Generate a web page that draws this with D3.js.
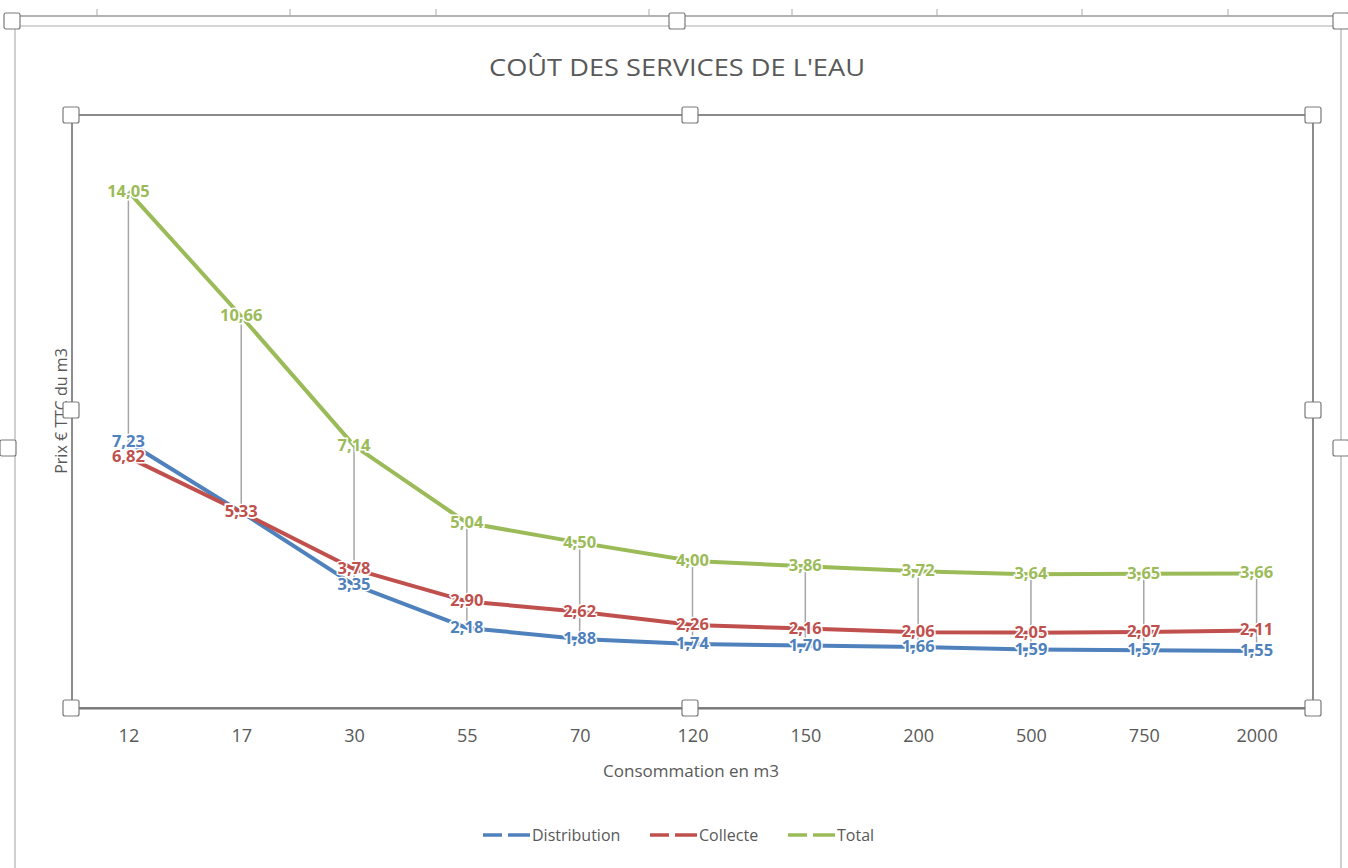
<html>
<head>
<meta charset="utf-8">
<script src="https://d3js.org/d3.v7.min.js"></script>
<style>
    body { margin: 0; background: #fff; }
    svg { font-family: "Open Sans", "Liberation Sans", sans-serif; }
</style>
</head>
<body>
<svg></svg>
<script>
    const categories = ["12", "17", "30", "55", "70", "120", "150", "200", "500", "750", "2000"];
    const distribution = [7.23, 5.33, 3.35, 2.18, 1.88, 1.74, 1.70, 1.66, 1.59, 1.57, 1.55];
    const collecte = [6.82, 5.33, 3.78, 2.90, 2.62, 2.26, 2.16, 2.06, 2.05, 2.07, 2.11];
    const total = [14.05, 10.66, 7.14, 5.04, 4.50, 4.00, 3.86, 3.72, 3.64, 3.65, 3.66];
    const seriesNames = ["Distribution", "Collecte", "Total"];
    const colors = ["#4F81BD", "#C0504D", "#9BBB59"];

    const width = 1348, height = 868;
    const svg = d3.select('svg').attr('width', width).attr('height', height);

    const plot = {left: 72, right: 1313, top: 115, bottom: 708};
    const x = d3.scalePoint().domain(categories).range([plot.left, plot.right]).padding(0.5);
    const y = d3.scaleLinear().domain([0, 16]).range([plot.bottom, 120]);

    const series = [distribution, collecte, total].map((vals, i) => ({
        name: seriesNames[i], color: colors[i],
        values: vals.map((v, j) => ({cat: categories[j], v: v}))
    }));

    // outer chart frame (excel selection look)
    svg.append('line').attr('x1', 10).attr('x2', 1348).attr('y1', 16).attr('y2', 16)
        .attr('stroke', '#9a9a9a').attr('stroke-width', 1.5);
    svg.append('line').attr('x1', 14).attr('x2', 1341).attr('y1', 26).attr('y2', 26)
        .attr('stroke', '#c8c8c8').attr('stroke-width', 1.5);
    [97, 290, 436, 649, 792, 937, 1082, 1228].forEach(tx => {
        svg.append('line').attr('x1', tx).attr('x2', tx).attr('y1', 9).attr('y2', 16)
            .attr('stroke', '#aaa').attr('stroke-width', 1);
    });
    svg.append('line').attr('x1', 15).attr('x2', 15).attr('y1', 28).attr('y2', height)
        .attr('stroke', '#c0c0c0').attr('stroke-width', 1.5);
    svg.append('line').attr('x1', 1341).attr('x2', 1341).attr('y1', 28).attr('y2', height)
        .attr('stroke', '#c0c0c0').attr('stroke-width', 1.5);

    // title
    svg.append('text').attr('x', 677).attr('y', 76).attr('text-anchor', 'middle')
        .attr('font-size', 24).attr('fill', '#595959')
        .attr('textLength', 376).attr('lengthAdjust', 'spacingAndGlyphs')
        .text("COÛT DES SERVICES DE L'EAU");

    // plot area outline
    svg.append('rect').attr('x', plot.left).attr('y', plot.top)
        .attr('width', plot.right - plot.left).attr('height', plot.bottom - plot.top)
        .attr('fill', 'none').attr('stroke', '#8c8c8c').attr('stroke-width', 2);

    // x axis
    const xAxis = svg.append('g').attr('transform', `translate(0,${plot.bottom})`)
        .call(d3.axisBottom(x).tickSize(0).tickPadding(21));
    xAxis.select('.domain').attr('stroke', '#777').attr('stroke-width', 2);
    xAxis.selectAll('text').attr('font-size', 18).attr('fill', '#595959')
        .attr('font-family', '"Open Sans", sans-serif');

    svg.append('text').attr('x', 691).attr('y', 777).attr('text-anchor', 'middle')
        .attr('font-size', 17).attr('fill', '#595959').text('Consommation en m3');

    svg.append('text').attr('transform', 'translate(67,411) rotate(-90)')
        .attr('text-anchor', 'middle').attr('font-size', 16).attr('fill', '#595959')
        .text('Prix € TTC du m3');

    // high-low lines
    svg.append('g').selectAll('line').data(categories).join('line')
        .attr('x1', d => x(d)).attr('x2', d => x(d))
        .attr('y1', (d, j) => y(d3.max([distribution[j], collecte[j], total[j]])))
        .attr('y2', (d, j) => y(d3.min([distribution[j], collecte[j], total[j]])))
        .attr('stroke', '#a6a6a6').attr('stroke-width', 1.5);

    // series lines
    const line = d3.line().x(d => x(d.cat)).y(d => y(d.v));
    svg.append('g').selectAll('path').data(series).join('path')
        .attr('d', d => line(d.values))
        .attr('fill', 'none').attr('stroke', d => d.color)
        .attr('stroke-width', 4).attr('stroke-linejoin', 'round');

    // data labels
    const fmt = v => v.toFixed(2).replace('.', ',');
    series.forEach(s => {
        svg.append('g').selectAll('text').data(s.values).join('text')
            .attr('x', d => x(d.cat)).attr('y', d => y(d.v) + 5)
            .attr('text-anchor', 'middle').attr('font-size', 16.5).attr('font-weight', 'bold')
            .attr('fill', s.color).attr('stroke', '#fff').attr('stroke-width', 3)
            .attr('paint-order', 'stroke')
            .text(d => fmt(d.v));
    });

    // legend
    const legendX = [483, 650, 788];
    const legend = svg.append('g');
    series.forEach((s, i) => {
        const lx = legendX[i];
        legend.append('line').attr('x1', lx).attr('x2', lx + 19).attr('y1', 835).attr('y2', 835)
            .attr('stroke', s.color).attr('stroke-width', 3.5);
        legend.append('line').attr('x1', lx + 25).attr('x2', lx + 47).attr('y1', 835).attr('y2', 835)
            .attr('stroke', s.color).attr('stroke-width', 3.5);
        legend.append('text').attr('x', lx + 49).attr('y', 841)
            .attr('font-size', 16).attr('fill', '#595959').text(s.name);
    });

    // selection handles
    const handles = [
        [71, 115], [690, 115], [1313, 115], [71, 410], [1313, 410],
        [71, 708], [690, 708], [1313, 708], [677, 21], [1341, 21], [1341, 448], [8, 448], [12, 21]
    ];
    svg.append('g').selectAll('rect').data(handles).join('rect')
        .attr('x', d => d[0] - 8).attr('y', d => d[1] - 8)
        .attr('width', 16).attr('height', 16).attr('rx', 2)
        .attr('fill', '#fff').attr('stroke', '#7a7a7a').attr('stroke-width', 1.2);
</script>
</body>
</html>
